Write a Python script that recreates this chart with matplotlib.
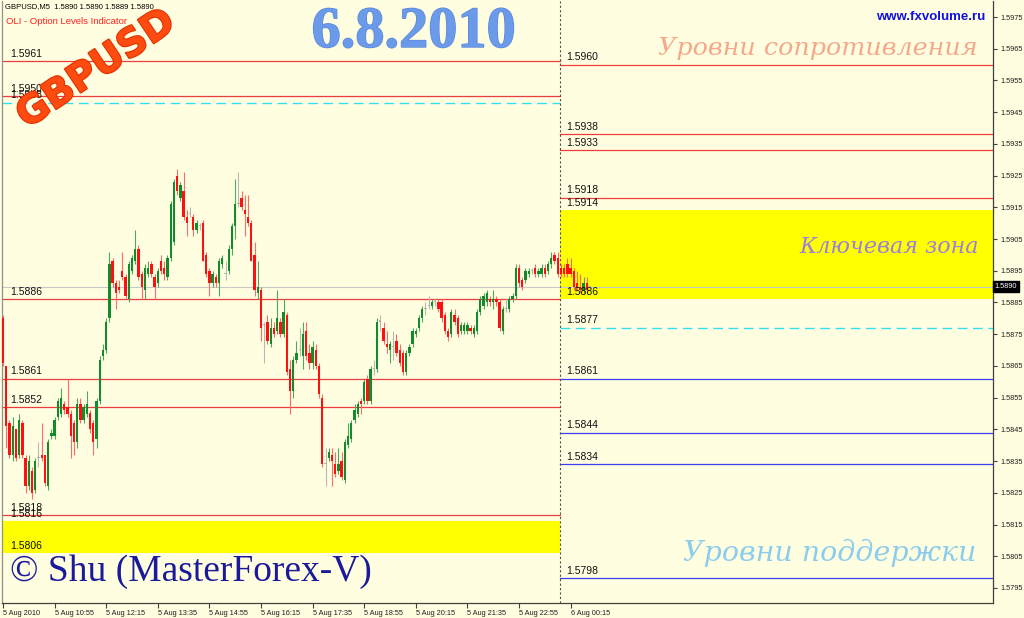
import matplotlib
matplotlib.use('Agg')
import matplotlib.pyplot as plt
import numpy as np
from matplotlib.transforms import blended_transform_factory
import matplotlib.patheffects as pe

# ---------------- data ----------------
opens = [1.5880,1.5865,1.5847,1.5837,1.5845,1.5837,1.5847,1.5836,1.5827,1.5832,
         1.5826,1.5836,1.5837,1.5837,1.5827,1.5843,1.5843,1.5849,1.5850,1.5853,
         1.5852,1.5850,1.5847,1.5841,1.5853,1.5848,1.5850,1.5850,1.5847,1.5842,
         1.5854,1.5868,1.5870,1.5880,1.5898,1.5891,1.5890,1.5895,1.5893,1.5886,
         1.5895,1.5898,1.5902,1.5894,1.5889,1.5894,1.5897,1.5893,1.5891,1.5898,
         1.5896,1.5893,1.5899,1.5904,1.5925,1.5918,1.5920,1.5912,1.5913,1.5912,
         1.5908,1.5909,1.5910,1.5900,1.5895,1.5891,1.5893,1.5891,1.5897,1.5894,
         1.5895,1.5902,1.5909,1.5916,1.5918,1.5914,1.5912,1.5910,1.5900,1.5888,
         1.5889,1.5878,1.5879,1.5872,1.5877,1.5876,1.5879,1.5875,1.5881,1.5864,
         1.5857,1.5867,1.5870,1.5868,1.5876,1.5869,1.5866,1.5870,1.5865,1.5855,
         1.5834,1.5836,1.5837,1.5834,1.5832,1.5835,1.5829,1.5840,1.5842,1.5848,
         1.5850,1.5854,1.5854,1.5861,1.5854,1.5864,1.5864,1.5879,1.5877,1.5872,
         1.5870,1.5871,1.5873,1.5870,1.5869,1.5863,1.5869,1.5872,1.5875,1.5877,
         1.5880,1.5883,1.5884,1.5884,1.5885,1.5885,1.5885,1.5881,1.5876,1.5875,
         1.5881,1.5880,1.5876,1.5876,1.5876,1.5877,1.5875,1.5876,1.5882,1.5884,
         1.5885,1.5886,1.5885,1.5886,1.5885,1.5876,1.5883,1.5883,1.5886,1.5887,
         1.5896,1.5892,1.5892,1.5894,1.5895,1.5896,1.5894,1.5894,1.5896,1.5895,
         1.5897,1.5900,1.5899,1.5896,1.5896,1.5897,1.5896,1.5895,1.5891,1.5890,
         1.5889,1.5891,1.5890]
highs = [1.5881,1.5865,1.5848,1.5849,1.5845,1.5850,1.5848,1.5837,1.5837,1.5833,
         1.5836,1.5841,1.5847,1.5837,1.5842,1.5845,1.5849,1.5855,1.5858,1.5854,
         1.5861,1.5851,1.5848,1.5855,1.5855,1.5853,1.5857,1.5851,1.5848,1.5855,
         1.5868,1.5872,1.5880,1.5901,1.5899,1.5892,1.5892,1.5901,1.5894,1.5898,
         1.5900,1.5908,1.5903,1.5895,1.5897,1.5898,1.5898,1.5894,1.5896,1.5900,
         1.5898,1.5900,1.5917,1.5924,1.5927,1.5923,1.5926,1.5914,1.5915,1.5913,
         1.5911,1.5910,1.5911,1.5901,1.5896,1.5895,1.5894,1.5899,1.5900,1.5898,
         1.5903,1.5910,1.5924,1.5926,1.5920,1.5919,1.5919,1.5911,1.5904,1.5898,
         1.5890,1.5879,1.5881,1.5880,1.5879,1.5889,1.5880,1.5886,1.5882,1.5867,
         1.5868,1.5873,1.5877,1.5879,1.5879,1.5872,1.5873,1.5872,1.5866,1.5856,
         1.5839,1.5839,1.5839,1.5838,1.5839,1.5838,1.5842,1.5847,1.5848,1.5853,
         1.5854,1.5855,1.5861,1.5862,1.5865,1.5867,1.5880,1.5881,1.5879,1.5876,
         1.5873,1.5876,1.5875,1.5872,1.5870,1.5870,1.5872,1.5877,1.5877,1.5881,
         1.5884,1.5885,1.5887,1.5886,1.5886,1.5886,1.5886,1.5882,1.5877,1.5883,
         1.5883,1.5881,1.5879,1.5879,1.5879,1.5878,1.5878,1.5883,1.5887,1.5888,
         1.5889,1.5887,1.5889,1.5887,1.5886,1.5884,1.5886,1.5887,1.5888,1.5897,
         1.5897,1.5893,1.5896,1.5896,1.5896,1.5897,1.5896,1.5897,1.5897,1.5898,
         1.5901,1.5901,1.5901,1.5897,1.5897,1.5899,1.5899,1.5896,1.5895,1.5894,
         1.5893,1.5893,1.5890]
lows  = [1.5865,1.5839,1.5836,1.5835,1.5835,1.5836,1.5836,1.5825,1.5826,1.5823,
         1.5825,1.5833,1.5835,1.5827,1.5826,1.5842,1.5842,1.5848,1.5849,1.5850,
         1.5849,1.5836,1.5837,1.5839,1.5847,1.5847,1.5849,1.5844,1.5837,1.5839,
         1.5853,1.5867,1.5869,1.5879,1.5890,1.5883,1.5888,1.5892,1.5886,1.5885,
         1.5894,1.5897,1.5892,1.5886,1.5886,1.5893,1.5893,1.5886,1.5890,1.5894,
         1.5892,1.5892,1.5898,1.5903,1.5919,1.5917,1.5911,1.5906,1.5912,1.5906,
         1.5907,1.5908,1.5898,1.5893,1.5887,1.5890,1.5890,1.5887,1.5896,1.5892,
         1.5894,1.5900,1.5905,1.5915,1.5914,1.5906,1.5909,1.5898,1.5887,1.5886,
         1.5873,1.5866,1.5872,1.5871,1.5874,1.5875,1.5874,1.5874,1.5862,1.5850,
         1.5855,1.5866,1.5868,1.5864,1.5867,1.5864,1.5864,1.5864,1.5855,1.5833,
         1.5827,1.5835,1.5827,1.5830,1.5831,1.5829,1.5828,1.5839,1.5841,1.5847,
         1.5849,1.5850,1.5853,1.5853,1.5853,1.5862,1.5863,1.5876,1.5872,1.5869,
         1.5866,1.5867,1.5868,1.5865,1.5862,1.5862,1.5868,1.5871,1.5874,1.5876,
         1.5879,1.5881,1.5883,1.5883,1.5884,1.5882,1.5879,1.5875,1.5873,1.5874,
         1.5878,1.5874,1.5875,1.5875,1.5875,1.5875,1.5874,1.5875,1.5881,1.5883,
         1.5884,1.5884,1.5883,1.5884,1.5876,1.5875,1.5882,1.5882,1.5885,1.5886,
         1.5890,1.5889,1.5891,1.5893,1.5894,1.5893,1.5893,1.5893,1.5893,1.5894,
         1.5896,1.5897,1.5893,1.5893,1.5893,1.5893,1.5893,1.5889,1.5889,1.5888,
         1.5888,1.5888,1.5889]
closes = [1.5866,1.5846,1.5837,1.5846,1.5836,1.5848,1.5837,1.5827,1.5835,1.5825,
          1.5835,1.5836,1.5836,1.5828,1.5841,1.5844,1.5848,1.5854,1.5855,1.5851,
          1.5850,1.5843,1.5841,1.5853,1.5848,1.5852,1.5853,1.5845,1.5841,1.5854,
          1.5867,1.5870,1.5879,1.5897,1.5891,1.5888,1.5889,1.5893,1.5887,1.5897,
          1.5899,1.5902,1.5893,1.5890,1.5896,1.5896,1.5894,1.5890,1.5895,1.5895,
          1.5894,1.5899,1.5916,1.5923,1.5920,1.5922,1.5912,1.5910,1.5913,1.5908,
          1.5910,1.5909,1.5898,1.5894,1.5891,1.5894,1.5891,1.5898,1.5899,1.5894,
          1.5902,1.5909,1.5916,1.5916,1.5915,1.5913,1.5910,1.5898,1.5889,1.5890,
          1.5877,1.5878,1.5873,1.5877,1.5875,1.5880,1.5875,1.5882,1.5863,1.5857,
          1.5867,1.5869,1.5870,1.5875,1.5868,1.5866,1.5871,1.5865,1.5856,1.5834,
          1.5834,1.5838,1.5835,1.5831,1.5834,1.5830,1.5841,1.5843,1.5847,1.5851,
          1.5853,1.5853,1.5860,1.5854,1.5864,1.5864,1.5879,1.5879,1.5873,1.5871,
          1.5872,1.5871,1.5869,1.5866,1.5863,1.5869,1.5871,1.5876,1.5876,1.5880,
          1.5883,1.5883,1.5884,1.5885,1.5885,1.5883,1.5880,1.5876,1.5874,1.5882,
          1.5879,1.5875,1.5878,1.5878,1.5878,1.5876,1.5877,1.5882,1.5886,1.5887,
          1.5888,1.5885,1.5886,1.5885,1.5877,1.5883,1.5883,1.5886,1.5887,1.5896,
          1.5891,1.5890,1.5895,1.5895,1.5895,1.5894,1.5895,1.5896,1.5894,1.5897,
          1.5899,1.5898,1.5894,1.5894,1.5894,1.5894,1.5894,1.5890,1.5890,1.5889,
          1.5891,1.5889,1.5890]

time_ticks = [0, 16, 32, 48, 64, 80, 96, 112, 128, 144, 160, 176]
time_labels = ["5 Aug 2010", "5 Aug 10:55", "5 Aug 12:15", "5 Aug 13:35",
               "5 Aug 14:55", "5 Aug 16:15", "5 Aug 17:35", "5 Aug 18:55",
               "5 Aug 20:15", "5 Aug 21:35", "5 Aug 22:55", "6 Aug 00:15"]
price_ticks = [1.5795, 1.5805, 1.5815, 1.5825, 1.5835, 1.5845, 1.5855, 1.5865,
               1.5875, 1.5885, 1.5895, 1.5905, 1.5915, 1.5925, 1.5935, 1.5945,
               1.5955, 1.5965, 1.5975]
day_split_bar = 173
bid_price = 1.5890

left_red_levels = [1.5961, 1.5950, 1.5886, 1.5861, 1.5852, 1.5818]
left_dash_level = 1.5948
left_zone = (1.5806, 1.5816)
left_labels = [1.5961, 1.5950, 1.5948, 1.5886, 1.5861, 1.5852, 1.5818, 1.5816, 1.5806]

right_red_levels = [1.5960, 1.5938, 1.5933, 1.5918]
right_zone = (1.5886, 1.5914)
right_dash_level = 1.5877
right_blue_levels = [1.5861, 1.5844, 1.5834, 1.5798]
right_labels = [1.5960, 1.5938, 1.5933, 1.5918, 1.5914, 1.5886, 1.5877,
                1.5861, 1.5844, 1.5834, 1.5798]

# ---------------- figure ----------------
W, H = 1024, 618
BG = '#FFFEE0'
fig = plt.figure(figsize=(W / 100, H / 100), dpi=100)
fig.patch.set_facecolor(BG)
PL, PR, PT, PB = 2, 993, 1, 603
ax = fig.add_axes([PL / W, 1 - PB / H, (PR - PL) / W, (PB - PT) / H])
ax.set_facecolor(BG)

PX_PER_UNIT = 31720.0   # pixels per 1.0 price
def py2price(y):
    return 1.5975 - (y - 17) / PX_PER_UNIT
BAR_PX = 3.225
ax.set_ylim(py2price(PB), py2price(PT))
ax.set_xlim(-1 / BAR_PX, (PR - 3) / BAR_PX)
xmax = (PR - 3) / BAR_PX
xmin = -1 / BAR_PX
split = day_split_bar - 0.3

# zones
ax.fill_between([xmin, split], left_zone[0], left_zone[1], color='#FFFF00', lw=0, zorder=1)
ax.fill_between([split, xmax], right_zone[0], right_zone[1], color='#FFFF00', lw=0, zorder=1)

for lv in left_red_levels:
    ax.plot([xmin, split], [lv, lv], color='#F03C3C', lw=0.9, zorder=2)
ax.plot([xmin, split], [left_dash_level] * 2, color='#33E0F0', lw=1.0,
        dashes=(7, 4), zorder=2)
for lv in right_red_levels:
    ax.plot([split, xmax], [lv, lv], color='#F03C3C', lw=0.9, zorder=2)
for lv in right_blue_levels:
    ax.plot([split, xmax], [lv, lv], color='#3C3CF0', lw=0.9, zorder=2)
ax.plot([split, xmax], [right_dash_level] * 2, color='#33E0F0', lw=1.0,
        dashes=(7, 4), zorder=2)

# bid line
ax.axhline(bid_price, color='#C8C8C8', lw=0.8, zorder=2)
# day separator
ax.axvline(split, color='#505050', lw=0.8, dashes=(2, 2), zorder=2)

# candles
o = np.array(opens); h = np.array(highs); l = np.array(lows); c = np.array(closes)
x = np.arange(len(o))
body_col = np.where(c > o, '#138A2C', np.where(c < o, '#FF1010', '#B0B0B0'))
wick_col = np.where(c > o, '#4FA85F', np.where(c < o, '#FF6A6A', '#B8B8B8'))
ax.vlines(x, l, h, colors=list(wick_col), lw=0.8, zorder=3)
bottom = np.minimum(o, c)
height = np.maximum(np.abs(c - o), 0.000035)
ax.bar(x, height, bottom=bottom, width=0.72, color=list(body_col), lw=0, zorder=4)

# axes styling
ax.spines['top'].set_visible(False)
ax.spines['left'].set_color('#909090')
ax.spines['right'].set_color('#404040')
ax.spines['bottom'].set_color('#404040')
for s in ['left', 'right', 'bottom']:
    ax.spines[s].set_linewidth(0.9)

ax.yaxis.tick_right()
ax.set_yticks(price_ticks)
ax.set_yticklabels(['%.4f' % p for p in price_ticks])
ax.tick_params(axis='y', which='both', direction='out', length=3, width=0.8,
               color='#404040', pad=2.5, labelsize=5.3, labelcolor='#202020')
ax.set_xticks(time_ticks)
ax.set_xticklabels(time_labels)
ax.tick_params(axis='x', direction='out', length=3.5, width=0.8, color='#404040',
               pad=1.5, labelsize=5.3, labelcolor='#202020')
for lab in ax.get_xticklabels():
    lab.set_horizontalalignment('left')
    lab.set_fontfamily('Liberation Sans')
for lab in ax.get_yticklabels():
    lab.set_fontfamily('Liberation Sans')

# bid price box
btr = blended_transform_factory(ax.transAxes, ax.transData)
ax.text(1.0015, bid_price, '%.4f' % bid_price, transform=btr, ha='left', va='center',
        fontsize=5.3, color='white', family='Liberation Sans', zorder=10,
        bbox=dict(boxstyle='square,pad=0.25', fc='black', ec='black'), clip_on=False)

# level labels
off = 2.5 / PX_PER_UNIT
def xpx(px):
    return (px - 3) / BAR_PX
for lv in left_labels:
    ax.text(xpx(10), lv + off, '%.4f' % lv, ha='left', va='bottom', fontsize=7.5,
            family='Liberation Sans', color='#101010', zorder=6)
for lv in right_labels:
    ax.text(xpx(566), lv + off, '%.4f' % lv, ha='left', va='bottom', fontsize=7.5,
            family='Liberation Sans', color='#101010', zorder=6)

# figure texts (pixel positions)
def ft(px, py, s, **kw):
    fig.text(px / W, 1 - py / H, s, **kw)

ft(5, 7, 'GBPUSD,M5  1.5890 1.5890 1.5889 1.5890', fontsize=5.5,
   family='Liberation Sans', color='black', va='center', ha='left')
ft(6, 21, 'OLI - Option Levels Indicator', fontsize=6.8, family='Liberation Sans',
   color='#FF2020', va='center', ha='left')
ft(96, 69, 'GBPUSD', fontsize=28, family='DejaVu Sans', weight='bold', color='#FF4A10',
   rotation=34, ha='center', va='center', rotation_mode='anchor',
   path_effects=[pe.withStroke(linewidth=1.5, foreground='#E03000')])
ft(414, 33, '6.8.2010', fontsize=42, family='Liberation Serif', weight='bold',
   color='#6B9AEB', ha='center', va='center',
   path_effects=[pe.withStroke(linewidth=1.0, foreground='#5A88D8')])
ft(985, 17, 'www.fxvolume.ru', fontsize=9.5, family='Liberation Sans', weight='bold',
   color='#1010E0', ha='right', va='center')
ft(818, 48, 'Уровни сопротивления', fontsize=18.3, family='DejaVu Serif', style='italic',
   color='#F5A88A', ha='center', va='center')
ft(889, 247, 'Ключевая зона', fontsize=16, family='DejaVu Serif', style='italic',
   color='#9A80E0', ha='center', va='center')
ft(830, 553, 'Уровни поддержки', fontsize=20.5, family='DejaVu Serif', style='italic',
   color='#8CCDEE', ha='center', va='center')
ft(10, 572, '© Shu (MasterForex-V)', fontsize=27, family='Liberation Serif',
   color='#1A1A9A', ha='left', va='center')

fig.savefig('out.png', dpi=100, facecolor=BG)
